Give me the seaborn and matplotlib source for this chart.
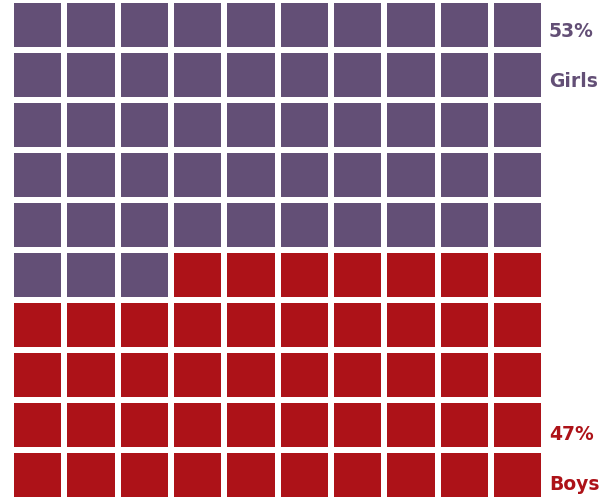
import numpy as np
import matplotlib
matplotlib.use("Agg")
import matplotlib.pyplot as plt
from matplotlib.colors import ListedColormap
import seaborn as sns

# Share of children by group, out of 100
groups = ["Girls", "Boys"]
counts = [53, 47]
pct_labels = ["53%", "47%"]
colors = ["#634F76", "#AD1218"]

n_rows, n_cols = 10, 10

# Fill the 10x10 waffle row by row from the top: girls first, then boys
cells = np.concatenate([np.full(c, i) for i, c in enumerate(counts)])
grid = cells.reshape(n_rows, n_cols)

sns.set_theme(style="white")
plt.rcParams["font.family"] = ["DejaVu Sans"]

W, H = 613, 499
fig = plt.figure(figsize=(W / 100, H / 100), dpi=100)
ax = fig.add_axes([11 / W, -1 / H, 533.3 / W, 500 / H])

sns.heatmap(grid, ax=ax, cmap=ListedColormap(colors), vmin=-0.5, vmax=1.5,
            cbar=False, linewidths=2.9, linecolor="white",
            xticklabels=False, yticklabels=False)
ax.set_axis_off()

# Labels on the right edge, placed by baseline
tx = 549 / W
style = dict(fontsize=13.5, fontweight="bold", va="baseline", ha="left")
fig.text(tx, 1 - 37 / H, pct_labels[0], color=colors[0], **style)
fig.text(tx, 1 - 87 / H, groups[0], color=colors[0], **style)
fig.text(tx, 1 - 440 / H, pct_labels[1], color=colors[1], **style)
fig.text(tx, 1 - 490 / H, groups[1], color=colors[1], **style)

fig.savefig("out.png", dpi=100, facecolor="white")
